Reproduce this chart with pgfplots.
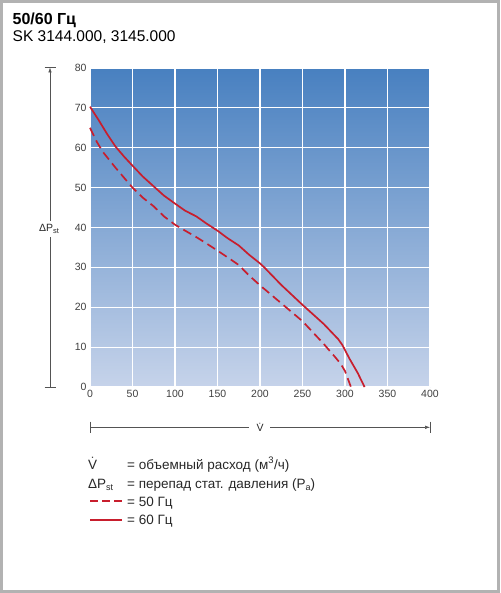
\documentclass[border=0pt]{standalone}
\usepackage{pgfplots}
\pgfplotsset{compat=1.18}
\usepackage{fontspec}
\setmainfont{Liberation Sans}
\usetikzlibrary{arrows.meta}
\definecolor{curvered}{RGB}{200,30,45}
\definecolor{bgtop}{RGB}{72,128,192}
\definecolor{bgbot}{RGB}{198,211,234}
\definecolor{framec}{RGB}{178,178,178}
\definecolor{txt}{RGB}{40,40,40}
\begin{document}
\begin{tikzpicture}[x=1pt,y=1pt]
\useasboundingbox (0,0) rectangle (500,-593);
\fill[white] (0,0) rectangle (500,-593);
\draw[framec, line width=3pt] (1.5,-1.5) rectangle (498.5,-591.5);
% titles
\node[anchor=base west, inner sep=0, font=\bfseries\fontsize{16}{18}\selectfont] at (12.5,-25) {50/60 Гц};
\node[anchor=base west, inner sep=0, font=\fontsize{15.5}{17}\selectfont] at (12.5,-41.7) {SK 3144.000, 3145.000};
\begin{axis}[at={(90pt,-387pt)}, anchor=south west, scale only axis,
  width=340pt, height=319pt,
  xmin=0, xmax=400, ymin=0, ymax=80,
  xtick={0,50,...,400}, ytick={0,10,...,80},
  grid=major, major grid style={white, line width=1.2pt},
  axis line style={draw=none}, tick style={draw=none},
  axis background/.style={shade, top color=bgtop, bottom color=bgbot},
  ticklabel style={font=\fontsize{10.5}{12}\selectfont, text=black!75},
  /pgf/number format/assume math mode=true,
  clip=false]
\addplot[curvered, line width=1.7pt] coordinates {
(0,70.3)(10,67)(20,63.5)(30,60.3)(40,57.8)(50,55.5)(62,52.8)(75,50.3)(87,48)(100,46)(112,44.2)(125,42.8)(137,41)(150,39.2)(162,37.3)(175,35.5)(187,33.2)(200,31)(205,30)(215,27.8)(225,25.6)(250,20.6)(275,15.8)(292,12)(297,10.5)(305,7.2)(315,3.5)(323,0)};
\addplot[curvered, line width=1.7pt, dash pattern=on 9pt off 5pt] coordinates {
(0,65)(8,61.5)(15,59)(30,55)(40,52.5)(50,50)(62,47.5)(75,45.3)(87,42.8)(100,40.7)(112,39.2)(125,37.6)(137,36)(150,34.2)(162,32.5)(175,30.6)(187,28)(200,25.5)(225,21)(250,16.5)(275,10.8)(288,7.6)(295,5.8)(300,4)(307,0)};
\end{axis}
% vertical arrow
\draw[txt!80, line width=0.5pt] (44.5,-387) -- (55.5,-387);
\draw[txt!80, line width=0.5pt] (44.5,-67.5) -- (55.5,-67.5);
\draw[txt!80, line width=0.5pt] (50,-387) -- (50,-237);
\draw[txt!80, line width=0.5pt, -{Latex[length=5pt,width=3.5pt]}] (50,-221) -- (50,-67.5);
\node[font=\fontsize{10.5}{12}\selectfont, text=txt, inner sep=0] at (49,-229) {ΔP\raisebox{-0.25ex}{\fontsize{7.5}{8}\selectfont st}};
% horizontal arrow
\draw[txt!80, line width=0.5pt] (90,-421.7) -- (90,-433);
\draw[txt!80, line width=0.5pt] (430,-421.7) -- (430,-433);
\draw[txt!80, line width=0.5pt] (90,-427.3) -- (249,-427.3);
\draw[txt!80, line width=0.5pt, -{Latex[length=5pt,width=3.5pt]}] (270,-427.3) -- (430,-427.3);
\node[font=\fontsize{10.5}{12}\selectfont, text=txt, inner sep=0] at (260,-427.3) {\.{V}};
% legend
\begin{scope}[every node/.style={anchor=base west, inner sep=0, font=\fontsize{13.5}{15}\selectfont, text=txt}]
\node at (88,-469) {\.{V}};
\node at (127,-469) {= объемный расход (м\textsuperscript{3}/ч)};
\node at (88,-488.3) {ΔP\raisebox{-0.3ex}{\fontsize{9}{10}\selectfont st}};
\node at (127,-488.3) {= перепад стат. давления (P\raisebox{-0.3ex}{\fontsize{9}{10}\selectfont a})};
\node at (127,-506) {= 50 Гц};
\node at (127,-524.3) {= 60 Гц};
\end{scope}
\draw[color={rgb,255:red,200;green,30;blue,45}, line width=1.8pt, dash pattern=on 8pt off 4pt] (90,-501) -- (122,-501);
\draw[color={rgb,255:red,200;green,30;blue,45}, line width=2pt, dash pattern=on 32pt off 4pt] (90,-519.5) -- (122,-519.5);
\end{tikzpicture}
\end{document}
